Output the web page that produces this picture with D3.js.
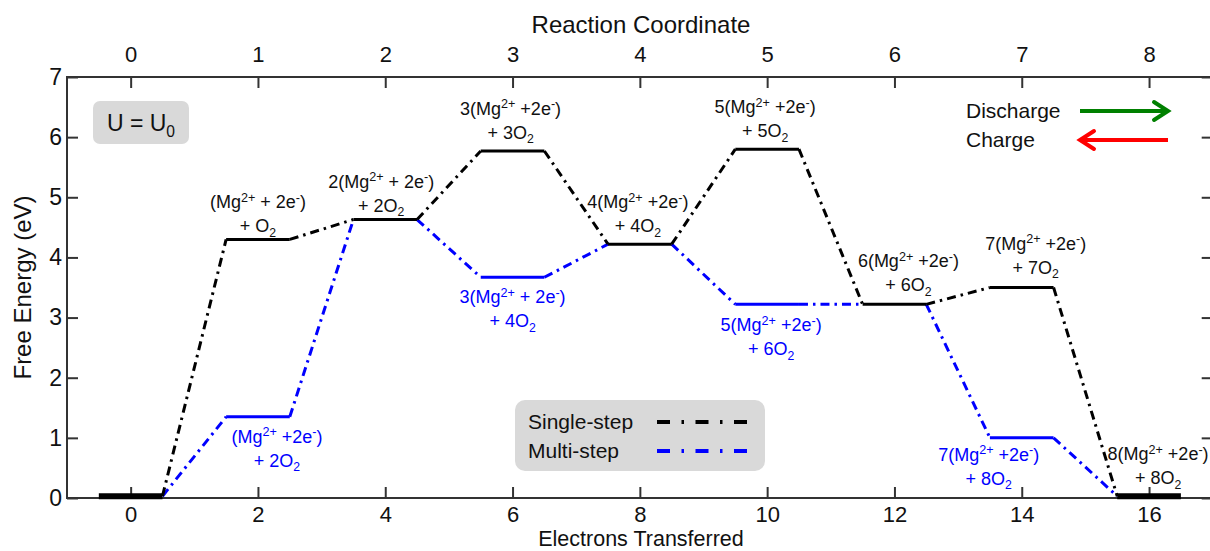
<!DOCTYPE html>
<html>
<head>
<meta charset="utf-8">
<script src="https://cdn.jsdelivr.net/npm/d3@7"></script>
<style>
  body { margin: 0; background: #fff; }
  svg { font-family: "Liberation Sans", Arial, Helvetica, sans-serif; }
</style>
</head>
<body>
<div id="chart"></div>
<script>
// electrons transferred at each intermediate, and reaction coordinate
var electrons = [0, 2, 4, 6, 8, 10, 12, 14, 16];
var reactionCoord = [0, 1, 2, 3, 4, 5, 6, 7, 8];
var energyTicks = [0, 1, 2, 3, 4, 5, 6, 7];

// free energy levels (eV)
var singleStep = [0.03, 4.30, 4.63, 5.77, 4.22, 5.80, 3.22, 3.50, 0.03];
var multiStep  = [0.03, 1.35, 4.63, 3.67, 4.22, 3.22, 3.22, 1.00, 0.03];

// level labels (markup: ^{} superscript, _{} subscript)
var singleLabels = [
  ["(Mg^{2+} + 2e^{-})", "+ O_{2}"],
  ["2(Mg^{2+} + 2e^{-})", "+ 2O_{2}"],
  ["3(Mg^{2+} +2e^{-})", "+ 3O_{2}"],
  ["4(Mg^{2+} +2e^{-})", "+ 4O_{2}"],
  ["5(Mg^{2+} +2e^{-})", "+ 5O_{2}"],
  ["6(Mg^{2+} +2e^{-})", "+ 6O_{2}"],
  ["7(Mg^{2+} +2e^{-})", "+ 7O_{2}"],
  ["8(Mg^{2+} +2e^{-})", "+ 8O_{2}"]
];
var singleLabelIdx = [1, 2, 3, 4, 5, 6, 7, 8];
var multiLabels = [
  ["(Mg^{2+} +2e^{-})", "+ 2O_{2}"],
  ["3(Mg^{2+} + 2e^{-})", "+ 4O_{2}"],
  ["5(Mg^{2+} +2e^{-})", "+ 6O_{2}"],
  ["7(Mg^{2+} +2e^{-})", "+ 8O_{2}"]
];
var multiLabelIdx = [1, 3, 5, 7];

// label nudges in px (layout only)
var singleNudge = [[0, 7], [-4, 8], [-2, 12], [-2, 12], [-2, 12], [14, 13], [14, 14], [9, 12]];
var multiNudge  = [[19, 26], [0, 26], [4, 27], [-33, 23]];

var w = 1210, h = 551;
var margin = {left: 67, right: 0, top: 77, bottom: 53};

var svg = d3.select("#chart").append("svg")
    .attr("width", w)
    .attr("height", h);

var xScale = d3.scaleLinear().domain([-1, 17]).range([margin.left, 1212.7]);
var yScale = d3.scaleLinear().domain([0, 7]).range([h - margin.bottom, margin.top]);
var rcScale = d3.scaleLinear().domain([-0.5, 8.5]).range([xScale(-1), xScale(17)]);

var dashDot = "9,5,2.5,5";

function addRich(sel, str, size) {
  // split markup into tspans
  var re = /(\^\{[^}]*\}|_\{[^}]*\})/g;
  var parts = str.split(re).filter(function(p){ return p.length; });
  var shift = 0;
  parts.forEach(function(p){
    var t = sel.append("tspan");
    var target = 0, txt = p, fs = size;
    if (p[0] === "^") { target = -0.36 * size; txt = p.slice(2, -1); fs = size * 0.7; }
    else if (p[0] === "_") { target = 0.25 * size; txt = p.slice(2, -1); fs = size * 0.68; }
    t.attr("dy", target - shift).style("font-size", fs + "px").text(txt);
    shift = target;
  });
}

// frame
svg.append("rect")
    .attr("x", xScale(-1)).attr("y", yScale(7))
    .attr("width", xScale(17) - xScale(-1))
    .attr("height", yScale(0) - yScale(7))
    .attr("fill", "none").attr("stroke", "#333").attr("stroke-width", 2);

// axes
var axisColor = "#333";
function styleAxis(g, fs) {
  g.select(".domain").remove();
  g.selectAll(".tick line").attr("stroke", axisColor).attr("stroke-width", 2);
  g.selectAll(".tick text").attr("fill", "#111").style("font-size", fs + "px");
}

svg.append("g")
    .attr("transform", "translate(0," + yScale(0) + ")")
    .call(d3.axisBottom(xScale).tickValues(electrons).tickSize(-11).tickPadding(8))
    .call(styleAxis, 22);

svg.append("g")
    .attr("transform", "translate(0," + yScale(7) + ")")
    .call(d3.axisTop(rcScale).tickValues(reactionCoord).tickSize(-11).tickPadding(15))
    .call(styleAxis, 22);

svg.append("g")
    .attr("transform", "translate(" + xScale(-1) + ",0)")
    .call(d3.axisLeft(yScale).tickValues(energyTicks).tickSize(-11).tickPadding(5).tickFormat(d3.format("d")))
    .call(styleAxis, 23);

svg.append("g")
    .attr("transform", "translate(" + xScale(17) + ",0)")
    .call(d3.axisRight(yScale).tickValues(energyTicks).tickSize(-11).tickFormat(""))
    .call(styleAxis, 22);

// axis titles
svg.append("text")
    .attr("x", 641).attr("y", 33)
    .attr("text-anchor", "middle")
    .style("font-size", "24px").attr("fill", "#111")
    .text("Reaction Coordinate");
svg.append("text")
    .attr("x", 641).attr("y", 546)
    .attr("text-anchor", "middle")
    .style("font-size", "21.5px").attr("fill", "#111")
    .text("Electrons Transferred");
svg.append("text")
    .attr("transform", "translate(31," + yScale(3.5) + ") rotate(-90)")
    .attr("text-anchor", "middle")
    .style("font-size", "24px").attr("fill", "#111")
    .text("Free Energy (eV)");

// connectors and levels
function connectors(vals) {
  var segs = [];
  for (var i = 0; i < vals.length - 1; i++) {
    segs.push({x1: electrons[i] + 0.5, y1: vals[i], x2: electrons[i + 1] - 0.5, y2: vals[i + 1]});
  }
  return segs;
}

var plot = svg.append("g");

plot.selectAll("line.multi-conn")
    .data(connectors(multiStep))
    .enter().append("line")
    .attr("class", "multi-conn")
    .attr("x1", function(d){ return xScale(d.x1); })
    .attr("y1", function(d){ return yScale(d.y1); })
    .attr("x2", function(d){ return xScale(d.x2); })
    .attr("y2", function(d){ return yScale(d.y2); })
    .attr("stroke", "#0000ff").attr("stroke-width", 3)
    .attr("stroke-dasharray", dashDot);

plot.selectAll("line.multi-level")
    .data(multiStep.map(function(v, i){ return {e: electrons[i], v: v, s: singleStep[i]}; })
      .filter(function(d){ return d.v !== d.s; }))
    .enter().append("line")
    .attr("class", "multi-level")
    .attr("x1", function(d){ return xScale(d.e - 0.5); })
    .attr("x2", function(d){ return xScale(d.e + 0.5); })
    .attr("y1", function(d){ return yScale(d.v); })
    .attr("y2", function(d){ return yScale(d.v); })
    .attr("stroke", "#0000ff").attr("stroke-width", 3);

plot.selectAll("line.single-conn")
    .data(connectors(singleStep))
    .enter().append("line")
    .attr("class", "single-conn")
    .attr("x1", function(d){ return xScale(d.x1); })
    .attr("y1", function(d){ return yScale(d.y1); })
    .attr("x2", function(d){ return xScale(d.x2); })
    .attr("y2", function(d){ return yScale(d.y2); })
    .attr("stroke", "#000").attr("stroke-width", 3)
    .attr("stroke-dasharray", dashDot);

plot.selectAll("line.single-level")
    .data(singleStep.map(function(v, i){ return {e: electrons[i], v: v, end: i === 0 || i === singleStep.length - 1}; }))
    .enter().append("line")
    .attr("class", "single-level")
    .attr("x1", function(d){ return xScale(d.e - 0.5); })
    .attr("x2", function(d){ return xScale(d.e + 0.5); })
    .attr("y1", function(d){ return yScale(d.v); })
    .attr("y2", function(d){ return yScale(d.v); })
    .attr("stroke", "#000")
    .attr("stroke-width", function(d){ return d.end ? 6 : 3; });

// labels
function drawLabels(labels, idx, vals, nudge, color, above) {
  labels.forEach(function(lab, k) {
    var i = idx[k];
    var cx = xScale(electrons[i]) + nudge[k][0];
    var ly = yScale(vals[i]);
    var y1, y2;
    if (above) { y2 = ly - nudge[k][1]; y1 = y2 - 24; }
    else { y1 = ly + nudge[k][1]; y2 = y1 + 24; }
    var t1 = svg.append("text").attr("x", cx).attr("y", y1)
        .attr("text-anchor", "middle").attr("fill", color).style("font-size", "18px");
    addRich(t1, lab[0], 18);
    var t2 = svg.append("text").attr("x", cx).attr("y", y2)
        .attr("text-anchor", "middle").attr("fill", color).style("font-size", "18px");
    addRich(t2, lab[1], 18);
  });
}
drawLabels(singleLabels, singleLabelIdx, singleStep, singleNudge, "#111", true);
drawLabels(multiLabels, multiLabelIdx, multiStep, multiNudge, "#0000ff", false);

// U = U0 box
svg.append("rect")
    .attr("x", 93).attr("y", 101).attr("width", 96).attr("height", 43)
    .attr("rx", 7).attr("fill", "#d9d9d9");
var ut = svg.append("text").attr("x", 141).attr("y", 131)
    .attr("text-anchor", "middle").attr("fill", "#111").style("font-size", "23px");
addRich(ut, "U = U_{0}", 23);

// legend
var legend = svg.append("g");
legend.append("rect")
    .attr("x", 515).attr("y", 400).attr("width", 250).attr("height", 71)
    .attr("rx", 10).attr("fill", "#d9d9d9");
var legendItems = [["Single-step", "#000"], ["Multi-step", "#0000ff"]];
legendItems.forEach(function(item, i) {
  var yy = 422 + i * 29;
  legend.append("text").attr("x", 528).attr("y", yy + 7)
      .style("font-size", "21px").attr("fill", "#111").text(item[0]);
  legend.append("line").attr("x1", 657).attr("x2", 749)
      .attr("y1", yy).attr("y2", yy)
      .attr("stroke", item[1]).attr("stroke-width", 4)
      .attr("stroke-dasharray", "13,11.5,2.5,11.5");
});

// discharge / charge arrows
var arrows = [["Discharge", "#008000", 1080, 1168, 111], ["Charge", "#ff0000", 1168, 1080, 140]];
arrows.forEach(function(a) {
  svg.append("text").attr("x", 966).attr("y", a[4] + 7)
      .style("font-size", "21px").attr("fill", "#111").text(a[0]);
  svg.append("line").attr("x1", a[2]).attr("x2", a[3]).attr("y1", a[4]).attr("y2", a[4])
      .attr("stroke", a[1]).attr("stroke-width", 4);
  var dir = a[3] > a[2] ? 1 : -1;
  svg.append("path")
      .attr("d", "M" + (a[3] - dir * 14) + "," + (a[4] - 9) + " L" + a[3] + "," + a[4] + " L" + (a[3] - dir * 14) + "," + (a[4] + 9))
      .attr("fill", "none").attr("stroke", a[1]).attr("stroke-width", 4)
      .attr("stroke-linecap", "round").attr("stroke-linejoin", "miter");
});
</script>
</body>
</html>
